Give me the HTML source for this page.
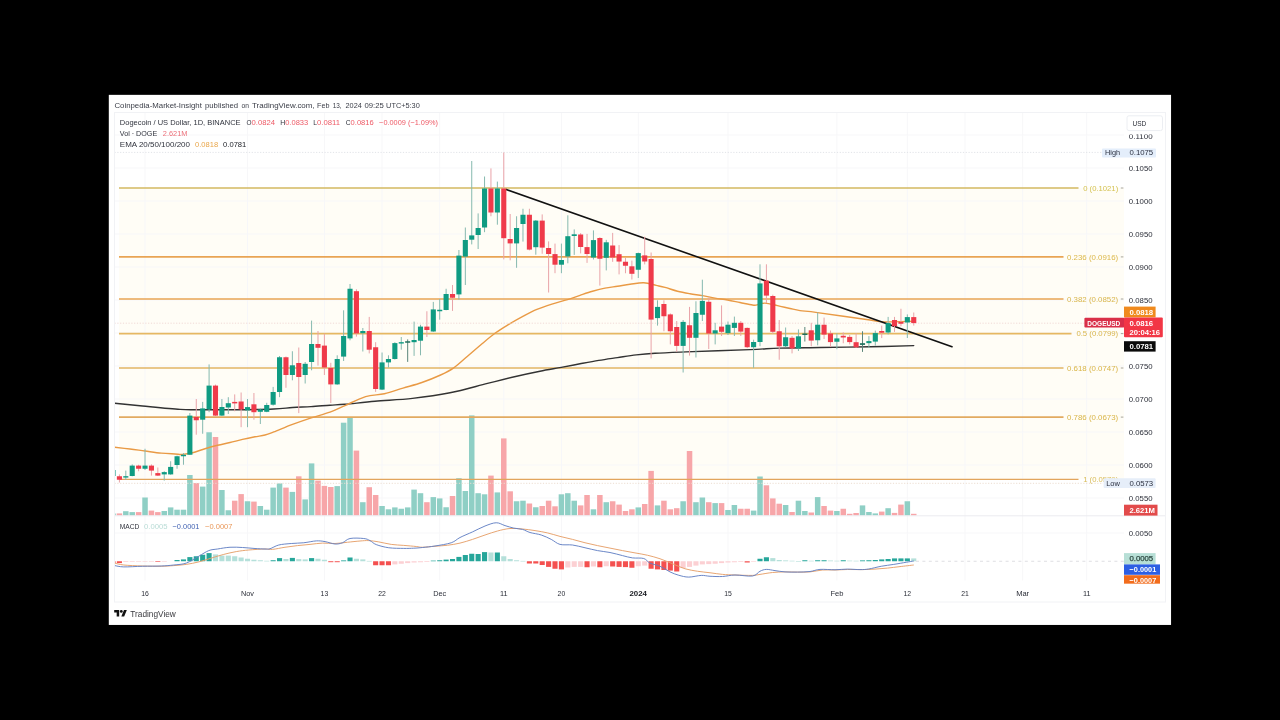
<!DOCTYPE html>
<html><head><meta charset="utf-8"><title>DOGEUSD chart</title>
<style>
html,body{margin:0;padding:0;background:#000;}
body{width:1280px;height:720px;overflow:hidden;font-family:"Liberation Sans", sans-serif;}
svg{display:block;will-change:transform;font-family:"Liberation Sans", sans-serif;}
</style></head><body>
<svg width="1280" height="720" viewBox="0 0 1280 720" font-family='"Liberation Sans", sans-serif'>
<defs>
<clipPath id="cm"><rect x="114.5" y="112.5" width="1009.5" height="403.29999999999995"/></clipPath>
<clipPath id="cd"><rect x="114.5" y="515.8" width="1009.5" height="64.70000000000005"/></clipPath>
<clipPath id="ca"><rect x="1079" y="112.5" width="86.5" height="471.29999999999995"/></clipPath>
</defs>
<rect x="0" y="0" width="1280" height="720" fill="#000"/>
<rect x="108.8" y="94.85" width="1062.25" height="530.1" fill="#fff"/>

<rect x="119" y="188" width="1005" height="291.3" fill="#fffdf6"/>
<g stroke="#f7f7f9" stroke-width="1" fill="none">
<line x1="145.03" y1="112.5" x2="145.03" y2="580.5"/>
<line x1="247.53" y1="112.5" x2="247.53" y2="580.5"/>
<line x1="324.4" y1="112.5" x2="324.4" y2="580.5"/>
<line x1="382.05" y1="112.5" x2="382.05" y2="580.5"/>
<line x1="439.71" y1="112.5" x2="439.71" y2="580.5"/>
<line x1="503.77" y1="112.5" x2="503.77" y2="580.5"/>
<line x1="561.42" y1="112.5" x2="561.42" y2="580.5"/>
<line x1="638.29" y1="112.5" x2="638.29" y2="580.5"/>
<line x1="727.98" y1="112.5" x2="727.98" y2="580.5"/>
<line x1="836.88" y1="112.5" x2="836.88" y2="580.5"/>
<line x1="907.34" y1="112.5" x2="907.34" y2="580.5"/>
<line x1="965.0" y1="112.5" x2="965.0" y2="580.5"/>
<line x1="1022.65" y1="112.5" x2="1022.65" y2="580.5"/>
<line x1="1086.71" y1="112.5" x2="1086.71" y2="580.5"/>
<line x1="114.5" y1="135" x2="1124" y2="135"/>
<line x1="114.5" y1="168" x2="1124" y2="168"/>
<line x1="114.5" y1="201" x2="1124" y2="201"/>
<line x1="114.5" y1="234" x2="1124" y2="234"/>
<line x1="114.5" y1="267" x2="1124" y2="267"/>
<line x1="114.5" y1="300" x2="1124" y2="300"/>
<line x1="114.5" y1="333" x2="1124" y2="333"/>
<line x1="114.5" y1="366" x2="1124" y2="366"/>
<line x1="114.5" y1="399" x2="1124" y2="399"/>
<line x1="114.5" y1="432" x2="1124" y2="432"/>
<line x1="114.5" y1="465" x2="1124" y2="465"/>
<line x1="114.5" y1="498" x2="1124" y2="498"/>
<line x1="114.5" y1="533" x2="1124" y2="533"/>
</g>
<g clip-path="url(#cm)">
<rect x="110.25" y="513.50" width="5.5" height="2.10" fill="#8fcfc5"/>
<rect x="116.66" y="513.40" width="5.5" height="2.20" fill="#f7a6a9"/>
<rect x="123.06" y="511.20" width="5.5" height="4.40" fill="#8fcfc5"/>
<rect x="129.47" y="512.10" width="5.5" height="3.50" fill="#8fcfc5"/>
<rect x="135.87" y="512.10" width="5.5" height="3.50" fill="#f7a6a9"/>
<rect x="142.28" y="497.50" width="5.5" height="18.10" fill="#8fcfc5"/>
<rect x="148.69" y="510.60" width="5.5" height="5.00" fill="#f7a6a9"/>
<rect x="155.09" y="512.10" width="5.5" height="3.50" fill="#f7a6a9"/>
<rect x="161.50" y="511.00" width="5.5" height="4.60" fill="#8fcfc5"/>
<rect x="167.90" y="507.40" width="5.5" height="8.20" fill="#8fcfc5"/>
<rect x="174.31" y="509.70" width="5.5" height="5.90" fill="#8fcfc5"/>
<rect x="180.72" y="509.70" width="5.5" height="5.90" fill="#8fcfc5"/>
<rect x="187.12" y="475.00" width="5.5" height="40.60" fill="#8fcfc5"/>
<rect x="193.53" y="483.00" width="5.5" height="32.60" fill="#f7a6a9"/>
<rect x="199.93" y="486.60" width="5.5" height="29.00" fill="#8fcfc5"/>
<rect x="206.34" y="432.25" width="5.5" height="83.35" fill="#8fcfc5"/>
<rect x="212.75" y="437.00" width="5.5" height="78.60" fill="#f7a6a9"/>
<rect x="219.15" y="490.00" width="5.5" height="25.60" fill="#8fcfc5"/>
<rect x="225.56" y="510.25" width="5.5" height="5.35" fill="#8fcfc5"/>
<rect x="231.96" y="500.70" width="5.5" height="14.90" fill="#f7a6a9"/>
<rect x="238.37" y="494.10" width="5.5" height="21.50" fill="#f7a6a9"/>
<rect x="244.78" y="501.25" width="5.5" height="14.35" fill="#8fcfc5"/>
<rect x="251.18" y="501.60" width="5.5" height="14.00" fill="#f7a6a9"/>
<rect x="257.59" y="506.00" width="5.5" height="9.60" fill="#8fcfc5"/>
<rect x="263.99" y="509.70" width="5.5" height="5.90" fill="#8fcfc5"/>
<rect x="270.40" y="487.60" width="5.5" height="28.00" fill="#8fcfc5"/>
<rect x="276.81" y="483.40" width="5.5" height="32.20" fill="#8fcfc5"/>
<rect x="283.21" y="487.60" width="5.5" height="28.00" fill="#f7a6a9"/>
<rect x="289.62" y="491.90" width="5.5" height="23.70" fill="#8fcfc5"/>
<rect x="296.02" y="476.30" width="5.5" height="39.30" fill="#f7a6a9"/>
<rect x="302.43" y="499.40" width="5.5" height="16.20" fill="#8fcfc5"/>
<rect x="308.84" y="463.40" width="5.5" height="52.20" fill="#8fcfc5"/>
<rect x="315.24" y="480.60" width="5.5" height="35.00" fill="#f7a6a9"/>
<rect x="321.65" y="485.90" width="5.5" height="29.70" fill="#f7a6a9"/>
<rect x="328.05" y="487.00" width="5.5" height="28.60" fill="#f7a6a9"/>
<rect x="334.46" y="486.10" width="5.5" height="29.50" fill="#8fcfc5"/>
<rect x="340.87" y="422.70" width="5.5" height="92.90" fill="#8fcfc5"/>
<rect x="347.27" y="417.40" width="5.5" height="98.20" fill="#8fcfc5"/>
<rect x="353.68" y="450.60" width="5.5" height="65.00" fill="#f7a6a9"/>
<rect x="360.08" y="502.20" width="5.5" height="13.40" fill="#8fcfc5"/>
<rect x="366.49" y="487.20" width="5.5" height="28.40" fill="#f7a6a9"/>
<rect x="372.90" y="495.00" width="5.5" height="20.60" fill="#f7a6a9"/>
<rect x="379.30" y="506.00" width="5.5" height="9.60" fill="#8fcfc5"/>
<rect x="385.71" y="509.30" width="5.5" height="6.30" fill="#8fcfc5"/>
<rect x="392.11" y="507.40" width="5.5" height="8.20" fill="#8fcfc5"/>
<rect x="398.52" y="508.75" width="5.5" height="6.85" fill="#8fcfc5"/>
<rect x="404.93" y="507.40" width="5.5" height="8.20" fill="#8fcfc5"/>
<rect x="411.33" y="489.60" width="5.5" height="26.00" fill="#8fcfc5"/>
<rect x="417.74" y="493.20" width="5.5" height="22.40" fill="#8fcfc5"/>
<rect x="424.14" y="502.20" width="5.5" height="13.40" fill="#f7a6a9"/>
<rect x="430.55" y="497.10" width="5.5" height="18.50" fill="#8fcfc5"/>
<rect x="436.96" y="498.40" width="5.5" height="17.20" fill="#8fcfc5"/>
<rect x="443.36" y="507.25" width="5.5" height="8.35" fill="#8fcfc5"/>
<rect x="449.77" y="496.00" width="5.5" height="19.60" fill="#f7a6a9"/>
<rect x="456.17" y="478.20" width="5.5" height="37.40" fill="#8fcfc5"/>
<rect x="462.58" y="491.00" width="5.5" height="24.60" fill="#8fcfc5"/>
<rect x="468.99" y="415.40" width="5.5" height="100.20" fill="#8fcfc5"/>
<rect x="475.39" y="493.20" width="5.5" height="22.40" fill="#8fcfc5"/>
<rect x="481.80" y="494.30" width="5.5" height="21.30" fill="#8fcfc5"/>
<rect x="488.20" y="475.60" width="5.5" height="40.00" fill="#f7a6a9"/>
<rect x="494.61" y="492.40" width="5.5" height="23.20" fill="#8fcfc5"/>
<rect x="501.02" y="438.40" width="5.5" height="77.20" fill="#f7a6a9"/>
<rect x="507.42" y="491.30" width="5.5" height="24.30" fill="#f7a6a9"/>
<rect x="513.83" y="501.25" width="5.5" height="14.35" fill="#8fcfc5"/>
<rect x="520.23" y="500.70" width="5.5" height="14.90" fill="#8fcfc5"/>
<rect x="526.64" y="503.50" width="5.5" height="12.10" fill="#f7a6a9"/>
<rect x="533.05" y="507.25" width="5.5" height="8.35" fill="#8fcfc5"/>
<rect x="539.45" y="506.00" width="5.5" height="9.60" fill="#f7a6a9"/>
<rect x="545.86" y="500.70" width="5.5" height="14.90" fill="#f7a6a9"/>
<rect x="552.26" y="506.30" width="5.5" height="9.30" fill="#f7a6a9"/>
<rect x="558.67" y="494.30" width="5.5" height="21.30" fill="#8fcfc5"/>
<rect x="565.08" y="493.20" width="5.5" height="22.40" fill="#8fcfc5"/>
<rect x="571.48" y="500.70" width="5.5" height="14.90" fill="#8fcfc5"/>
<rect x="577.89" y="505.40" width="5.5" height="10.20" fill="#f7a6a9"/>
<rect x="584.29" y="495.00" width="5.5" height="20.60" fill="#f7a6a9"/>
<rect x="590.70" y="509.30" width="5.5" height="6.30" fill="#8fcfc5"/>
<rect x="597.11" y="495.00" width="5.5" height="20.60" fill="#f7a6a9"/>
<rect x="603.51" y="502.20" width="5.5" height="13.40" fill="#8fcfc5"/>
<rect x="609.92" y="501.25" width="5.5" height="14.35" fill="#f7a6a9"/>
<rect x="616.32" y="504.60" width="5.5" height="11.00" fill="#f7a6a9"/>
<rect x="622.73" y="511.00" width="5.5" height="4.60" fill="#f7a6a9"/>
<rect x="629.14" y="509.30" width="5.5" height="6.30" fill="#f7a6a9"/>
<rect x="635.54" y="507.40" width="5.5" height="8.20" fill="#8fcfc5"/>
<rect x="641.95" y="504.00" width="5.5" height="11.60" fill="#f7a6a9"/>
<rect x="648.35" y="470.90" width="5.5" height="44.70" fill="#f7a6a9"/>
<rect x="654.76" y="505.40" width="5.5" height="10.20" fill="#8fcfc5"/>
<rect x="661.17" y="500.70" width="5.5" height="14.90" fill="#f7a6a9"/>
<rect x="667.57" y="509.30" width="5.5" height="6.30" fill="#f7a6a9"/>
<rect x="673.98" y="508.20" width="5.5" height="7.40" fill="#f7a6a9"/>
<rect x="680.38" y="501.25" width="5.5" height="14.35" fill="#8fcfc5"/>
<rect x="686.79" y="451.00" width="5.5" height="64.60" fill="#f7a6a9"/>
<rect x="693.20" y="502.20" width="5.5" height="13.40" fill="#8fcfc5"/>
<rect x="699.60" y="497.50" width="5.5" height="18.10" fill="#8fcfc5"/>
<rect x="706.01" y="502.20" width="5.5" height="13.40" fill="#f7a6a9"/>
<rect x="712.41" y="503.10" width="5.5" height="12.50" fill="#8fcfc5"/>
<rect x="718.82" y="503.10" width="5.5" height="12.50" fill="#f7a6a9"/>
<rect x="725.23" y="510.00" width="5.5" height="5.60" fill="#8fcfc5"/>
<rect x="731.63" y="505.00" width="5.5" height="10.60" fill="#8fcfc5"/>
<rect x="738.04" y="508.75" width="5.5" height="6.85" fill="#f7a6a9"/>
<rect x="744.44" y="508.75" width="5.5" height="6.85" fill="#f7a6a9"/>
<rect x="750.85" y="510.60" width="5.5" height="5.00" fill="#8fcfc5"/>
<rect x="757.26" y="476.50" width="5.5" height="39.10" fill="#8fcfc5"/>
<rect x="763.66" y="485.30" width="5.5" height="30.30" fill="#f7a6a9"/>
<rect x="770.07" y="498.40" width="5.5" height="17.20" fill="#f7a6a9"/>
<rect x="776.47" y="503.70" width="5.5" height="11.90" fill="#f7a6a9"/>
<rect x="782.88" y="505.00" width="5.5" height="10.60" fill="#8fcfc5"/>
<rect x="789.29" y="512.00" width="5.5" height="3.60" fill="#f7a6a9"/>
<rect x="795.69" y="500.70" width="5.5" height="14.90" fill="#8fcfc5"/>
<rect x="802.10" y="511.00" width="5.5" height="4.60" fill="#8fcfc5"/>
<rect x="808.50" y="512.50" width="5.5" height="3.10" fill="#f7a6a9"/>
<rect x="814.91" y="497.10" width="5.5" height="18.50" fill="#8fcfc5"/>
<rect x="821.32" y="506.00" width="5.5" height="9.60" fill="#f7a6a9"/>
<rect x="827.72" y="510.60" width="5.5" height="5.00" fill="#f7a6a9"/>
<rect x="834.13" y="511.00" width="5.5" height="4.60" fill="#8fcfc5"/>
<rect x="840.53" y="508.75" width="5.5" height="6.85" fill="#f7a6a9"/>
<rect x="846.94" y="513.80" width="5.5" height="1.80" fill="#f7a6a9"/>
<rect x="853.35" y="513.00" width="5.5" height="2.60" fill="#f7a6a9"/>
<rect x="859.75" y="505.40" width="5.5" height="10.20" fill="#8fcfc5"/>
<rect x="866.16" y="512.00" width="5.5" height="3.60" fill="#8fcfc5"/>
<rect x="872.56" y="513.40" width="5.5" height="2.20" fill="#8fcfc5"/>
<rect x="878.97" y="511.60" width="5.5" height="4.00" fill="#f7a6a9"/>
<rect x="885.38" y="508.20" width="5.5" height="7.40" fill="#8fcfc5"/>
<rect x="891.78" y="512.90" width="5.5" height="2.70" fill="#f7a6a9"/>
<rect x="898.19" y="504.60" width="5.5" height="11.00" fill="#f7a6a9"/>
<rect x="904.59" y="501.25" width="5.5" height="14.35" fill="#8fcfc5"/>
<rect x="911.00" y="513.80" width="5.5" height="1.80" fill="#f7a6a9"/>
</g>
<line x1="114.5" y1="152.4" x2="1102" y2="152.4" stroke="#e1e3e8" stroke-width="1" stroke-dasharray="1.2,1.6"/>
<line x1="114.5" y1="483.3" x2="1103" y2="483.3" stroke="#ebddd0" stroke-width="1" stroke-dasharray="1.2,1.6"/>
<line x1="119" y1="188.0" x2="1078.5" y2="188.0" stroke="#d3b861" stroke-width="1.6"/>
<line x1="119" y1="256.9" x2="1063.5" y2="256.9" stroke="#e9a454" stroke-width="1.6"/>
<line x1="119" y1="299.0" x2="1063.5" y2="299.0" stroke="#e9a454" stroke-width="1.6"/>
<line x1="119" y1="333.6" x2="1071.5" y2="333.6" stroke="#e6b862" stroke-width="1.6"/>
<line x1="119" y1="368.0" x2="1063.5" y2="368.0" stroke="#e2b464" stroke-width="1.6"/>
<line x1="119" y1="417.1" x2="1063.5" y2="417.1" stroke="#e2aa60" stroke-width="1.6"/>
<line x1="119" y1="479.3" x2="1078.5" y2="479.3" stroke="#e2a55c" stroke-width="1.25"/>
<g clip-path="url(#cm)" fill="none" stroke-linejoin="round" stroke-linecap="round">
<path d="M114.75,403.20 C119.38,403.67 131.62,404.97 142.50,406.00 C153.38,407.03 170.62,408.77 180.00,409.40 C189.38,410.02 189.42,409.69 198.75,409.75 C208.08,409.81 223.50,409.88 236.00,409.75 C248.50,409.62 264.33,409.38 273.75,409.00 C283.17,408.62 286.29,407.90 292.50,407.50 C298.71,407.10 304.75,406.98 311.00,406.60 C317.25,406.22 324.33,405.58 330.00,405.20 C335.67,404.82 337.50,404.96 345.00,404.30 C352.50,403.64 363.75,402.23 375.00,401.25 C386.25,400.27 400.00,399.81 412.50,398.40 C425.00,396.99 437.50,395.30 450.00,392.80 C462.50,390.30 476.57,386.12 487.50,383.40 C498.43,380.68 506.85,378.52 515.60,376.50 C524.35,374.48 532.39,372.77 540.00,371.25 C547.61,369.73 554.58,368.64 561.25,367.40 C567.92,366.16 573.75,364.97 580.00,363.80 C586.25,362.63 592.50,361.43 598.75,360.40 C605.00,359.37 611.25,358.52 617.50,357.60 C623.75,356.68 630.00,355.62 636.25,354.90 C642.50,354.17 646.71,353.75 655.00,353.25 C663.29,352.75 670.17,352.51 686.00,351.90 C701.83,351.29 734.33,350.23 750.00,349.60 C765.67,348.97 768.33,348.45 780.00,348.10 C791.67,347.75 805.00,347.72 820.00,347.50 C835.00,347.28 854.38,347.12 870.00,346.80 C885.62,346.48 906.46,345.80 913.75,345.60" stroke="#333" stroke-width="1.4"/>
<path d="M114.75,447.25 C117.29,447.54 124.96,448.38 130.00,449.00 C135.04,449.62 139.79,450.32 145.00,451.00 C150.21,451.68 156.25,452.60 161.25,453.10 C166.25,453.60 171.46,453.78 175.00,454.00 C178.54,454.22 179.58,454.61 182.50,454.40 C185.42,454.19 188.75,453.69 192.50,452.75 C196.25,451.81 200.83,449.99 205.00,448.75 C209.17,447.51 213.33,446.34 217.50,445.30 C221.67,444.26 225.83,443.48 230.00,442.50 C234.17,441.52 238.33,440.35 242.50,439.40 C246.67,438.45 251.25,437.53 255.00,436.80 C258.75,436.07 261.88,435.82 265.00,435.00 C268.12,434.18 269.17,433.67 273.75,431.90 C278.33,430.13 286.25,426.75 292.50,424.40 C298.75,422.05 305.00,419.83 311.25,417.80 C317.50,415.77 324.38,414.23 330.00,412.20 C335.62,410.17 339.07,408.20 345.00,405.60 C350.93,403.00 359.03,398.58 365.60,396.60 C372.17,394.62 378.17,395.17 384.40,393.75 C390.63,392.33 396.75,389.98 403.00,388.10 C409.25,386.23 415.63,384.68 421.90,382.50 C428.17,380.32 435.29,377.43 440.60,375.00 C445.91,372.57 449.27,371.02 453.75,367.90 C458.23,364.77 463.02,360.07 467.50,356.25 C471.98,352.43 475.92,348.91 480.60,345.00 C485.28,341.09 490.91,336.23 495.60,332.80 C500.29,329.37 504.06,327.22 508.75,324.40 C513.44,321.58 519.06,318.40 523.75,315.90 C528.44,313.40 532.21,311.37 536.90,309.40 C541.59,307.43 546.80,305.73 551.90,304.10 C557.00,302.47 562.82,301.07 567.50,299.60 C572.18,298.13 575.83,296.69 580.00,295.30 C584.17,293.91 588.33,292.45 592.50,291.25 C596.67,290.05 600.83,288.93 605.00,288.10 C609.17,287.27 613.33,286.88 617.50,286.25 C621.67,285.62 625.62,284.88 630.00,284.30 C634.38,283.73 639.38,282.62 643.75,282.80 C648.12,282.98 652.71,284.63 656.25,285.40 C659.79,286.17 661.46,286.42 665.00,287.40 C668.54,288.38 673.33,290.19 677.50,291.25 C681.67,292.31 685.83,293.02 690.00,293.75 C694.17,294.48 698.33,294.88 702.50,295.60 C706.67,296.33 710.83,297.37 715.00,298.10 C719.17,298.83 723.33,299.27 727.50,300.00 C731.67,300.73 735.83,301.67 740.00,302.50 C744.17,303.33 749.67,304.60 752.50,305.00 C755.33,305.40 754.92,305.22 757.00,304.90 C759.08,304.58 761.58,302.98 765.00,303.10 C768.42,303.22 773.33,304.70 777.50,305.60 C781.67,306.50 786.25,307.67 790.00,308.50 C793.75,309.33 795.42,309.92 800.00,310.60 C804.58,311.28 805.83,311.03 817.50,312.60 C829.17,314.17 859.17,318.45 870.00,320.00 C880.83,321.55 875.21,321.70 882.50,321.90 C889.79,322.10 908.54,321.32 913.75,321.20" stroke="#e99a45" stroke-width="1.4"/>
</g>
<line x1="114.5" y1="323.2" x2="1085" y2="323.2" stroke="#f0d9d6" stroke-width="1" stroke-dasharray="1.2,1.6"/>
<line x1="506.2" y1="189.5" x2="952" y2="346.7" stroke="#111" stroke-width="1.6" stroke-linecap="round"/>
<g clip-path="url(#cm)">
<line x1="113.00" y1="470.00" x2="113.00" y2="476.00" stroke="#86b9af" stroke-width="1"/>
<rect x="110.45" y="470.00" width="5.1" height="6.00" fill="#0f9b82"/>
<line x1="119.41" y1="474.40" x2="119.41" y2="482.50" stroke="#e9a3a8" stroke-width="1"/>
<rect x="116.86" y="476.25" width="5.1" height="3.50" fill="#ef3a4a"/>
<line x1="125.81" y1="470.60" x2="125.81" y2="480.00" stroke="#86b9af" stroke-width="1"/>
<rect x="123.26" y="476.18" width="5.1" height="1.40" fill="#0f9b82"/>
<line x1="132.22" y1="464.40" x2="132.22" y2="476.30" stroke="#86b9af" stroke-width="1"/>
<rect x="129.67" y="465.60" width="5.1" height="10.40" fill="#0f9b82"/>
<line x1="138.62" y1="464.75" x2="138.62" y2="471.25" stroke="#e9a3a8" stroke-width="1"/>
<rect x="136.07" y="465.60" width="5.1" height="3.15" fill="#ef3a4a"/>
<line x1="145.03" y1="448.75" x2="145.03" y2="470.00" stroke="#86b9af" stroke-width="1"/>
<rect x="142.48" y="465.60" width="5.1" height="3.15" fill="#0f9b82"/>
<line x1="151.44" y1="464.40" x2="151.44" y2="475.60" stroke="#e9a3a8" stroke-width="1"/>
<rect x="148.89" y="465.60" width="5.1" height="5.00" fill="#ef3a4a"/>
<line x1="157.84" y1="467.50" x2="157.84" y2="476.00" stroke="#e9a3a8" stroke-width="1"/>
<rect x="155.29" y="473.10" width="5.1" height="2.50" fill="#ef3a4a"/>
<line x1="164.25" y1="471.25" x2="164.25" y2="480.60" stroke="#86b9af" stroke-width="1"/>
<rect x="161.70" y="472.10" width="5.1" height="2.30" fill="#0f9b82"/>
<line x1="170.65" y1="461.25" x2="170.65" y2="474.75" stroke="#86b9af" stroke-width="1"/>
<rect x="168.10" y="466.90" width="5.1" height="7.50" fill="#0f9b82"/>
<line x1="177.06" y1="455.60" x2="177.06" y2="468.75" stroke="#86b9af" stroke-width="1"/>
<rect x="174.51" y="456.25" width="5.1" height="8.75" fill="#0f9b82"/>
<line x1="183.47" y1="453.10" x2="183.47" y2="464.75" stroke="#86b9af" stroke-width="1"/>
<rect x="180.92" y="454.75" width="5.1" height="1.50" fill="#0f9b82"/>
<line x1="189.87" y1="413.00" x2="189.87" y2="455.00" stroke="#86b9af" stroke-width="1"/>
<rect x="187.32" y="415.60" width="5.1" height="39.15" fill="#0f9b82"/>
<line x1="196.28" y1="399.00" x2="196.28" y2="434.70" stroke="#e9a3a8" stroke-width="1"/>
<rect x="193.73" y="416.90" width="5.1" height="3.35" fill="#ef3a4a"/>
<line x1="202.68" y1="401.90" x2="202.68" y2="433.75" stroke="#86b9af" stroke-width="1"/>
<rect x="200.13" y="408.40" width="5.1" height="11.30" fill="#0f9b82"/>
<line x1="209.09" y1="364.40" x2="209.09" y2="412.20" stroke="#86b9af" stroke-width="1"/>
<rect x="206.54" y="385.60" width="5.1" height="23.80" fill="#0f9b82"/>
<line x1="215.50" y1="384.60" x2="215.50" y2="416.00" stroke="#e9a3a8" stroke-width="1"/>
<rect x="212.95" y="385.60" width="5.1" height="30.00" fill="#ef3a4a"/>
<line x1="221.90" y1="399.00" x2="221.90" y2="416.00" stroke="#86b9af" stroke-width="1"/>
<rect x="219.35" y="407.00" width="5.1" height="8.60" fill="#0f9b82"/>
<line x1="228.31" y1="397.20" x2="228.31" y2="414.00" stroke="#86b9af" stroke-width="1"/>
<rect x="225.76" y="403.20" width="5.1" height="4.30" fill="#0f9b82"/>
<line x1="234.71" y1="394.40" x2="234.71" y2="411.25" stroke="#e9a3a8" stroke-width="1"/>
<rect x="232.16" y="401.90" width="5.1" height="1.50" fill="#ef3a4a"/>
<line x1="241.12" y1="392.50" x2="241.12" y2="427.20" stroke="#e9a3a8" stroke-width="1"/>
<rect x="238.57" y="401.50" width="5.1" height="7.90" fill="#ef3a4a"/>
<line x1="247.53" y1="399.00" x2="247.53" y2="427.20" stroke="#86b9af" stroke-width="1"/>
<rect x="244.98" y="407.10" width="5.1" height="3.20" fill="#0f9b82"/>
<line x1="253.93" y1="393.00" x2="253.93" y2="419.70" stroke="#e9a3a8" stroke-width="1"/>
<rect x="251.38" y="404.30" width="5.1" height="7.90" fill="#ef3a4a"/>
<line x1="260.34" y1="408.40" x2="260.34" y2="424.00" stroke="#86b9af" stroke-width="1"/>
<rect x="257.79" y="409.40" width="5.1" height="2.40" fill="#0f9b82"/>
<line x1="266.74" y1="402.80" x2="266.74" y2="412.20" stroke="#86b9af" stroke-width="1"/>
<rect x="264.19" y="405.00" width="5.1" height="6.80" fill="#0f9b82"/>
<line x1="273.15" y1="386.90" x2="273.15" y2="405.60" stroke="#86b9af" stroke-width="1"/>
<rect x="270.60" y="392.00" width="5.1" height="12.70" fill="#0f9b82"/>
<line x1="279.56" y1="356.00" x2="279.56" y2="397.20" stroke="#86b9af" stroke-width="1"/>
<rect x="277.01" y="357.25" width="5.1" height="34.75" fill="#0f9b82"/>
<line x1="285.96" y1="356.50" x2="285.96" y2="387.80" stroke="#e9a3a8" stroke-width="1"/>
<rect x="283.41" y="357.25" width="5.1" height="17.75" fill="#ef3a4a"/>
<line x1="292.37" y1="351.25" x2="292.37" y2="380.30" stroke="#86b9af" stroke-width="1"/>
<rect x="289.82" y="365.30" width="5.1" height="9.70" fill="#0f9b82"/>
<line x1="298.77" y1="347.50" x2="298.77" y2="413.10" stroke="#e9a3a8" stroke-width="1"/>
<rect x="296.22" y="363.00" width="5.1" height="14.00" fill="#ef3a4a"/>
<line x1="305.18" y1="362.00" x2="305.18" y2="383.50" stroke="#86b9af" stroke-width="1"/>
<rect x="302.63" y="363.80" width="5.1" height="11.20" fill="#0f9b82"/>
<line x1="311.59" y1="320.60" x2="311.59" y2="370.30" stroke="#86b9af" stroke-width="1"/>
<rect x="309.04" y="344.00" width="5.1" height="18.00" fill="#0f9b82"/>
<line x1="317.99" y1="331.00" x2="317.99" y2="365.60" stroke="#e9a3a8" stroke-width="1"/>
<rect x="315.44" y="344.00" width="5.1" height="3.80" fill="#ef3a4a"/>
<line x1="324.40" y1="333.75" x2="324.40" y2="375.00" stroke="#e9a3a8" stroke-width="1"/>
<rect x="321.85" y="345.60" width="5.1" height="21.90" fill="#ef3a4a"/>
<line x1="330.80" y1="362.80" x2="330.80" y2="403.00" stroke="#e9a3a8" stroke-width="1"/>
<rect x="328.25" y="367.90" width="5.1" height="16.50" fill="#ef3a4a"/>
<line x1="337.21" y1="355.30" x2="337.21" y2="384.75" stroke="#86b9af" stroke-width="1"/>
<rect x="334.66" y="359.00" width="5.1" height="25.40" fill="#0f9b82"/>
<line x1="343.62" y1="310.30" x2="343.62" y2="361.00" stroke="#86b9af" stroke-width="1"/>
<rect x="341.07" y="336.00" width="5.1" height="20.60" fill="#0f9b82"/>
<line x1="350.02" y1="284.00" x2="350.02" y2="340.30" stroke="#86b9af" stroke-width="1"/>
<rect x="347.47" y="288.75" width="5.1" height="49.65" fill="#0f9b82"/>
<line x1="356.43" y1="289.30" x2="356.43" y2="336.60" stroke="#e9a3a8" stroke-width="1"/>
<rect x="353.88" y="291.20" width="5.1" height="42.20" fill="#ef3a4a"/>
<line x1="362.83" y1="328.00" x2="362.83" y2="351.50" stroke="#86b9af" stroke-width="1"/>
<rect x="360.28" y="331.00" width="5.1" height="2.20" fill="#0f9b82"/>
<line x1="369.24" y1="316.90" x2="369.24" y2="353.40" stroke="#e9a3a8" stroke-width="1"/>
<rect x="366.69" y="331.00" width="5.1" height="18.70" fill="#ef3a4a"/>
<line x1="375.65" y1="342.20" x2="375.65" y2="391.90" stroke="#e9a3a8" stroke-width="1"/>
<rect x="373.10" y="347.25" width="5.1" height="41.75" fill="#ef3a4a"/>
<line x1="382.05" y1="352.50" x2="382.05" y2="390.00" stroke="#86b9af" stroke-width="1"/>
<rect x="379.50" y="362.40" width="5.1" height="27.20" fill="#0f9b82"/>
<line x1="388.46" y1="355.30" x2="388.46" y2="367.50" stroke="#86b9af" stroke-width="1"/>
<rect x="385.91" y="359.00" width="5.1" height="3.40" fill="#0f9b82"/>
<line x1="394.86" y1="342.20" x2="394.86" y2="359.60" stroke="#86b9af" stroke-width="1"/>
<rect x="392.31" y="343.10" width="5.1" height="15.90" fill="#0f9b82"/>
<line x1="401.27" y1="337.00" x2="401.27" y2="349.70" stroke="#86b9af" stroke-width="1"/>
<rect x="398.72" y="342.15" width="5.1" height="1.40" fill="#0f9b82"/>
<line x1="407.68" y1="339.40" x2="407.68" y2="361.90" stroke="#5b857a" stroke-width="1"/>
<rect x="405.13" y="341.25" width="5.1" height="1.50" fill="#1f6f5c"/>
<line x1="414.08" y1="321.60" x2="414.08" y2="355.90" stroke="#86b9af" stroke-width="1"/>
<rect x="411.53" y="340.00" width="5.1" height="2.20" fill="#0f9b82"/>
<line x1="420.49" y1="324.75" x2="420.49" y2="355.30" stroke="#86b9af" stroke-width="1"/>
<rect x="417.94" y="326.60" width="5.1" height="14.10" fill="#0f9b82"/>
<line x1="426.89" y1="311.25" x2="426.89" y2="337.00" stroke="#e9a3a8" stroke-width="1"/>
<rect x="424.34" y="326.60" width="5.1" height="3.40" fill="#ef3a4a"/>
<line x1="433.30" y1="301.90" x2="433.30" y2="331.90" stroke="#86b9af" stroke-width="1"/>
<rect x="430.75" y="309.40" width="5.1" height="22.10" fill="#0f9b82"/>
<line x1="439.71" y1="299.00" x2="439.71" y2="319.70" stroke="#86b9af" stroke-width="1"/>
<rect x="437.16" y="309.75" width="5.1" height="1.50" fill="#0f9b82"/>
<line x1="446.11" y1="288.75" x2="446.11" y2="310.30" stroke="#86b9af" stroke-width="1"/>
<rect x="443.56" y="294.00" width="5.1" height="16.00" fill="#0f9b82"/>
<line x1="452.52" y1="285.00" x2="452.52" y2="310.90" stroke="#e9a3a8" stroke-width="1"/>
<rect x="449.97" y="294.00" width="5.1" height="3.75" fill="#ef3a4a"/>
<line x1="458.92" y1="250.00" x2="458.92" y2="299.60" stroke="#86b9af" stroke-width="1"/>
<rect x="456.37" y="255.60" width="5.1" height="38.80" fill="#0f9b82"/>
<line x1="465.33" y1="227.50" x2="465.33" y2="285.00" stroke="#86b9af" stroke-width="1"/>
<rect x="462.78" y="240.00" width="5.1" height="16.60" fill="#0f9b82"/>
<line x1="471.74" y1="161.00" x2="471.74" y2="244.40" stroke="#86b9af" stroke-width="1"/>
<rect x="469.19" y="235.40" width="5.1" height="4.30" fill="#0f9b82"/>
<line x1="478.14" y1="213.40" x2="478.14" y2="249.00" stroke="#86b9af" stroke-width="1"/>
<rect x="475.59" y="228.00" width="5.1" height="7.00" fill="#0f9b82"/>
<line x1="484.55" y1="176.50" x2="484.55" y2="232.20" stroke="#86b9af" stroke-width="1"/>
<rect x="482.00" y="188.50" width="5.1" height="39.00" fill="#0f9b82"/>
<line x1="490.95" y1="168.40" x2="490.95" y2="216.25" stroke="#e9a3a8" stroke-width="1"/>
<rect x="488.40" y="188.50" width="5.1" height="24.00" fill="#ef3a4a"/>
<line x1="497.36" y1="181.60" x2="497.36" y2="224.70" stroke="#86b9af" stroke-width="1"/>
<rect x="494.81" y="188.50" width="5.1" height="24.00" fill="#0f9b82"/>
<line x1="503.77" y1="152.50" x2="503.77" y2="259.40" stroke="#e9a3a8" stroke-width="1"/>
<rect x="501.22" y="188.50" width="5.1" height="49.70" fill="#ef3a4a"/>
<line x1="510.17" y1="214.00" x2="510.17" y2="260.30" stroke="#e9a3a8" stroke-width="1"/>
<rect x="507.62" y="239.00" width="5.1" height="4.40" fill="#ef3a4a"/>
<line x1="516.58" y1="216.25" x2="516.58" y2="267.80" stroke="#86b9af" stroke-width="1"/>
<rect x="514.03" y="228.00" width="5.1" height="15.40" fill="#0f9b82"/>
<line x1="522.98" y1="208.75" x2="522.98" y2="241.60" stroke="#86b9af" stroke-width="1"/>
<rect x="520.43" y="214.75" width="5.1" height="9.25" fill="#0f9b82"/>
<line x1="529.39" y1="208.75" x2="529.39" y2="250.40" stroke="#e9a3a8" stroke-width="1"/>
<rect x="526.84" y="214.75" width="5.1" height="34.85" fill="#ef3a4a"/>
<line x1="535.80" y1="220.00" x2="535.80" y2="254.70" stroke="#86b9af" stroke-width="1"/>
<rect x="533.25" y="220.60" width="5.1" height="26.60" fill="#0f9b82"/>
<line x1="542.20" y1="214.40" x2="542.20" y2="253.75" stroke="#e9a3a8" stroke-width="1"/>
<rect x="539.65" y="220.60" width="5.1" height="27.00" fill="#ef3a4a"/>
<line x1="548.61" y1="241.40" x2="548.61" y2="292.50" stroke="#e9a3a8" stroke-width="1"/>
<rect x="546.06" y="248.00" width="5.1" height="6.00" fill="#ef3a4a"/>
<line x1="555.01" y1="243.60" x2="555.01" y2="273.20" stroke="#e9a3a8" stroke-width="1"/>
<rect x="552.46" y="254.10" width="5.1" height="10.60" fill="#ef3a4a"/>
<line x1="561.42" y1="243.60" x2="561.42" y2="273.20" stroke="#86b9af" stroke-width="1"/>
<rect x="558.87" y="260.00" width="5.1" height="4.70" fill="#0f9b82"/>
<line x1="567.83" y1="215.30" x2="567.83" y2="263.30" stroke="#86b9af" stroke-width="1"/>
<rect x="565.28" y="236.20" width="5.1" height="20.20" fill="#0f9b82"/>
<line x1="574.23" y1="229.40" x2="574.23" y2="254.90" stroke="#86b9af" stroke-width="1"/>
<rect x="571.68" y="234.30" width="5.1" height="1.70" fill="#0f9b82"/>
<line x1="580.64" y1="233.10" x2="580.64" y2="253.40" stroke="#e9a3a8" stroke-width="1"/>
<rect x="578.09" y="234.50" width="5.1" height="12.50" fill="#ef3a4a"/>
<line x1="587.04" y1="233.90" x2="587.04" y2="262.90" stroke="#e9a3a8" stroke-width="1"/>
<rect x="584.49" y="247.10" width="5.1" height="6.90" fill="#ef3a4a"/>
<line x1="593.45" y1="230.40" x2="593.45" y2="259.50" stroke="#86b9af" stroke-width="1"/>
<rect x="590.90" y="240.10" width="5.1" height="17.40" fill="#0f9b82"/>
<line x1="599.86" y1="237.20" x2="599.86" y2="285.60" stroke="#e9a3a8" stroke-width="1"/>
<rect x="597.31" y="238.00" width="5.1" height="20.75" fill="#ef3a4a"/>
<line x1="606.26" y1="239.85" x2="606.26" y2="270.40" stroke="#86b9af" stroke-width="1"/>
<rect x="603.71" y="242.30" width="5.1" height="15.50" fill="#0f9b82"/>
<line x1="612.67" y1="232.90" x2="612.67" y2="261.85" stroke="#e9a3a8" stroke-width="1"/>
<rect x="610.12" y="245.50" width="5.1" height="12.00" fill="#ef3a4a"/>
<line x1="619.07" y1="245.10" x2="619.07" y2="274.40" stroke="#e9a3a8" stroke-width="1"/>
<rect x="616.52" y="254.20" width="5.1" height="7.35" fill="#ef3a4a"/>
<line x1="625.48" y1="258.00" x2="625.48" y2="273.25" stroke="#e9a3a8" stroke-width="1"/>
<rect x="622.93" y="261.75" width="5.1" height="4.00" fill="#ef3a4a"/>
<line x1="631.89" y1="260.60" x2="631.89" y2="279.50" stroke="#e9a3a8" stroke-width="1"/>
<rect x="629.34" y="266.30" width="5.1" height="7.50" fill="#ef3a4a"/>
<line x1="638.29" y1="252.60" x2="638.29" y2="278.00" stroke="#86b9af" stroke-width="1"/>
<rect x="635.74" y="253.10" width="5.1" height="16.65" fill="#0f9b82"/>
<line x1="644.70" y1="236.70" x2="644.70" y2="264.40" stroke="#e9a3a8" stroke-width="1"/>
<rect x="642.15" y="255.40" width="5.1" height="6.10" fill="#ef3a4a"/>
<line x1="651.10" y1="252.50" x2="651.10" y2="358.40" stroke="#e9a3a8" stroke-width="1"/>
<rect x="648.55" y="259.00" width="5.1" height="60.60" fill="#ef3a4a"/>
<line x1="657.51" y1="300.30" x2="657.51" y2="325.60" stroke="#86b9af" stroke-width="1"/>
<rect x="654.96" y="306.90" width="5.1" height="11.20" fill="#0f9b82"/>
<line x1="663.92" y1="300.30" x2="663.92" y2="331.25" stroke="#e9a3a8" stroke-width="1"/>
<rect x="661.37" y="304.00" width="5.1" height="12.25" fill="#ef3a4a"/>
<line x1="670.32" y1="313.40" x2="670.32" y2="344.40" stroke="#e9a3a8" stroke-width="1"/>
<rect x="667.77" y="314.40" width="5.1" height="16.85" fill="#ef3a4a"/>
<line x1="676.73" y1="321.00" x2="676.73" y2="351.90" stroke="#e9a3a8" stroke-width="1"/>
<rect x="674.18" y="327.00" width="5.1" height="18.90" fill="#ef3a4a"/>
<line x1="683.13" y1="320.00" x2="683.13" y2="372.50" stroke="#86b9af" stroke-width="1"/>
<rect x="680.58" y="321.90" width="5.1" height="24.00" fill="#0f9b82"/>
<line x1="689.54" y1="306.90" x2="689.54" y2="355.60" stroke="#e9a3a8" stroke-width="1"/>
<rect x="686.99" y="325.25" width="5.1" height="12.55" fill="#ef3a4a"/>
<line x1="695.95" y1="301.25" x2="695.95" y2="357.50" stroke="#86b9af" stroke-width="1"/>
<rect x="693.40" y="313.00" width="5.1" height="24.80" fill="#0f9b82"/>
<line x1="702.35" y1="279.70" x2="702.35" y2="321.00" stroke="#86b9af" stroke-width="1"/>
<rect x="699.80" y="300.90" width="5.1" height="13.85" fill="#0f9b82"/>
<line x1="708.76" y1="297.50" x2="708.76" y2="349.00" stroke="#e9a3a8" stroke-width="1"/>
<rect x="706.21" y="301.80" width="5.1" height="31.70" fill="#ef3a4a"/>
<line x1="715.16" y1="322.80" x2="715.16" y2="344.40" stroke="#86b9af" stroke-width="1"/>
<rect x="712.61" y="330.30" width="5.1" height="3.20" fill="#0f9b82"/>
<line x1="721.57" y1="305.40" x2="721.57" y2="336.00" stroke="#e9a3a8" stroke-width="1"/>
<rect x="719.02" y="326.60" width="5.1" height="5.20" fill="#ef3a4a"/>
<line x1="727.98" y1="321.50" x2="727.98" y2="335.00" stroke="#86b9af" stroke-width="1"/>
<rect x="725.43" y="324.70" width="5.1" height="8.40" fill="#0f9b82"/>
<line x1="734.38" y1="316.60" x2="734.38" y2="336.00" stroke="#86b9af" stroke-width="1"/>
<rect x="731.83" y="322.80" width="5.1" height="5.10" fill="#0f9b82"/>
<line x1="740.79" y1="321.00" x2="740.79" y2="336.00" stroke="#e9a3a8" stroke-width="1"/>
<rect x="738.24" y="322.80" width="5.1" height="8.80" fill="#ef3a4a"/>
<line x1="747.19" y1="327.50" x2="747.19" y2="348.10" stroke="#e9a3a8" stroke-width="1"/>
<rect x="744.64" y="327.90" width="5.1" height="19.30" fill="#ef3a4a"/>
<line x1="753.60" y1="339.70" x2="753.60" y2="367.80" stroke="#86b9af" stroke-width="1"/>
<rect x="751.05" y="342.00" width="5.1" height="5.20" fill="#0f9b82"/>
<line x1="760.01" y1="264.30" x2="760.01" y2="346.25" stroke="#86b9af" stroke-width="1"/>
<rect x="757.46" y="283.40" width="5.1" height="58.60" fill="#0f9b82"/>
<line x1="766.41" y1="264.30" x2="766.41" y2="303.10" stroke="#e9a3a8" stroke-width="1"/>
<rect x="763.86" y="280.60" width="5.1" height="15.00" fill="#ef3a4a"/>
<line x1="772.82" y1="294.70" x2="772.82" y2="334.00" stroke="#e9a3a8" stroke-width="1"/>
<rect x="770.27" y="296.00" width="5.1" height="35.80" fill="#ef3a4a"/>
<line x1="779.22" y1="320.00" x2="779.22" y2="359.75" stroke="#e9a3a8" stroke-width="1"/>
<rect x="776.67" y="331.25" width="5.1" height="15.00" fill="#ef3a4a"/>
<line x1="785.63" y1="327.50" x2="785.63" y2="347.20" stroke="#86b9af" stroke-width="1"/>
<rect x="783.08" y="337.25" width="5.1" height="9.00" fill="#0f9b82"/>
<line x1="792.04" y1="336.00" x2="792.04" y2="353.40" stroke="#e9a3a8" stroke-width="1"/>
<rect x="789.49" y="337.80" width="5.1" height="10.70" fill="#ef3a4a"/>
<line x1="798.44" y1="329.40" x2="798.44" y2="351.00" stroke="#86b9af" stroke-width="1"/>
<rect x="795.89" y="336.30" width="5.1" height="12.20" fill="#0f9b82"/>
<line x1="804.85" y1="327.00" x2="804.85" y2="341.50" stroke="#5b857a" stroke-width="1"/>
<rect x="802.30" y="333.50" width="5.1" height="1.50" fill="#1f6f5c"/>
<line x1="811.25" y1="322.80" x2="811.25" y2="346.25" stroke="#e9a3a8" stroke-width="1"/>
<rect x="808.70" y="330.30" width="5.1" height="10.30" fill="#ef3a4a"/>
<line x1="817.66" y1="312.50" x2="817.66" y2="345.30" stroke="#86b9af" stroke-width="1"/>
<rect x="815.11" y="324.70" width="5.1" height="15.55" fill="#0f9b82"/>
<line x1="824.07" y1="317.60" x2="824.07" y2="339.00" stroke="#e9a3a8" stroke-width="1"/>
<rect x="821.52" y="324.75" width="5.1" height="9.85" fill="#ef3a4a"/>
<line x1="830.47" y1="330.50" x2="830.47" y2="347.00" stroke="#e9a3a8" stroke-width="1"/>
<rect x="827.92" y="333.50" width="5.1" height="8.60" fill="#ef3a4a"/>
<line x1="836.88" y1="333.40" x2="836.88" y2="349.20" stroke="#86b9af" stroke-width="1"/>
<rect x="834.33" y="338.40" width="5.1" height="3.35" fill="#0f9b82"/>
<line x1="843.28" y1="332.35" x2="843.28" y2="343.25" stroke="#e9a3a8" stroke-width="1"/>
<rect x="840.73" y="335.80" width="5.1" height="1.70" fill="#ef3a4a"/>
<line x1="849.69" y1="335.00" x2="849.69" y2="344.40" stroke="#e9a3a8" stroke-width="1"/>
<rect x="847.14" y="336.90" width="5.1" height="5.20" fill="#ef3a4a"/>
<line x1="856.10" y1="333.10" x2="856.10" y2="347.90" stroke="#e9a3a8" stroke-width="1"/>
<rect x="853.55" y="342.20" width="5.1" height="5.15" fill="#ef3a4a"/>
<line x1="862.50" y1="331.25" x2="862.50" y2="351.90" stroke="#5b857a" stroke-width="1"/>
<rect x="859.95" y="343.20" width="5.1" height="1.70" fill="#1f6f5c"/>
<line x1="868.91" y1="336.10" x2="868.91" y2="347.90" stroke="#86b9af" stroke-width="1"/>
<rect x="866.36" y="341.10" width="5.1" height="2.05" fill="#0f9b82"/>
<line x1="875.31" y1="330.60" x2="875.31" y2="345.60" stroke="#86b9af" stroke-width="1"/>
<rect x="872.76" y="333.10" width="5.1" height="8.50" fill="#0f9b82"/>
<line x1="881.72" y1="325.60" x2="881.72" y2="338.10" stroke="#e9a3a8" stroke-width="1"/>
<rect x="879.17" y="331.00" width="5.1" height="1.75" fill="#ef3a4a"/>
<line x1="888.13" y1="316.90" x2="888.13" y2="334.40" stroke="#86b9af" stroke-width="1"/>
<rect x="885.58" y="323.10" width="5.1" height="9.40" fill="#0f9b82"/>
<line x1="894.53" y1="316.90" x2="894.53" y2="331.90" stroke="#e9a3a8" stroke-width="1"/>
<rect x="891.98" y="320.00" width="5.1" height="6.25" fill="#ef3a4a"/>
<line x1="900.94" y1="308.75" x2="900.94" y2="326.25" stroke="#e9a3a8" stroke-width="1"/>
<rect x="898.39" y="321.90" width="5.1" height="1.85" fill="#ef3a4a"/>
<line x1="907.34" y1="314.40" x2="907.34" y2="338.00" stroke="#86b9af" stroke-width="1"/>
<rect x="904.79" y="317.10" width="5.1" height="5.40" fill="#0f9b82"/>
<line x1="913.75" y1="312.50" x2="913.75" y2="325.60" stroke="#e9a3a8" stroke-width="1"/>
<rect x="911.20" y="317.10" width="5.1" height="6.00" fill="#ef3a4a"/>
</g>
<text x="1118.2" y="190.7" font-size="7.8" fill="#d4c252" font-weight="normal" text-anchor="end" textLength="35" lengthAdjust="spacingAndGlyphs">0 (0.1021)</text>
<rect x="1120.8" y="187.5" width="2.6" height="1" fill="#a8a69c"/>
<text x="1118.2" y="259.59999999999997" font-size="7.8" fill="#dcb84a" font-weight="normal" text-anchor="end" textLength="51.2" lengthAdjust="spacingAndGlyphs">0.236 (0.0916)</text>
<rect x="1120.8" y="256.4" width="2.6" height="1" fill="#a8a69c"/>
<text x="1118.2" y="301.7" font-size="7.8" fill="#d9b64c" font-weight="normal" text-anchor="end" textLength="51.2" lengthAdjust="spacingAndGlyphs">0.382 (0.0852)</text>
<rect x="1120.8" y="298.5" width="2.6" height="1" fill="#a8a69c"/>
<text x="1118.2" y="336.3" font-size="7.8" fill="#d9b64c" font-weight="normal" text-anchor="end" textLength="41.8" lengthAdjust="spacingAndGlyphs">0.5 (0.0799)</text>
<rect x="1120.8" y="333.1" width="2.6" height="1" fill="#a8a69c"/>
<text x="1118.2" y="370.7" font-size="7.8" fill="#d9b548" font-weight="normal" text-anchor="end" textLength="51.2" lengthAdjust="spacingAndGlyphs">0.618 (0.0747)</text>
<rect x="1120.8" y="367.5" width="2.6" height="1" fill="#a8a69c"/>
<text x="1118.2" y="419.8" font-size="7.8" fill="#d9b548" font-weight="normal" text-anchor="end" textLength="51.2" lengthAdjust="spacingAndGlyphs">0.786 (0.0673)</text>
<rect x="1120.8" y="416.6" width="2.6" height="1" fill="#a8a69c"/>
<text x="1118.2" y="482.0" font-size="7.8" fill="#d9bc58" font-weight="normal" text-anchor="end" textLength="35" lengthAdjust="spacingAndGlyphs">1 (0.0579)</text>
<line x1="114.5" y1="515.8" x2="1165.5" y2="515.8" stroke="#ebecf0" stroke-width="1"/>
<g clip-path="url(#cd)">
<rect x="110.45" y="561.25" width="5.1" height="1.85" fill="#f4504f"/>
<rect x="116.86" y="561.25" width="5.1" height="1.85" fill="#f4504f"/>
<rect x="123.26" y="561.25" width="5.1" height="0.75" fill="#fcd0d3"/>
<rect x="129.67" y="561.25" width="5.1" height="0.65" fill="#fcd0d3"/>
<rect x="136.07" y="561.25" width="5.1" height="0.60" fill="#fcd0d3"/>
<rect x="142.48" y="561.25" width="5.1" height="0.60" fill="#fcd0d3"/>
<rect x="148.89" y="561.25" width="5.1" height="0.60" fill="#fcd0d3"/>
<rect x="155.29" y="561.25" width="5.1" height="0.65" fill="#f4504f"/>
<rect x="161.70" y="561.25" width="5.1" height="0.60" fill="#fcd0d3"/>
<rect x="174.51" y="560.00" width="5.1" height="1.25" fill="#26a69a"/>
<rect x="180.92" y="559.40" width="5.1" height="1.85" fill="#26a69a"/>
<rect x="187.32" y="557.10" width="5.1" height="4.15" fill="#26a69a"/>
<rect x="193.73" y="556.25" width="5.1" height="5.00" fill="#26a69a"/>
<rect x="200.13" y="554.75" width="5.1" height="6.50" fill="#26a69a"/>
<rect x="206.54" y="553.10" width="5.1" height="8.15" fill="#26a69a"/>
<rect x="212.95" y="554.40" width="5.1" height="6.85" fill="#b5e0da"/>
<rect x="219.35" y="555.60" width="5.1" height="5.65" fill="#b5e0da"/>
<rect x="225.76" y="555.60" width="5.1" height="5.65" fill="#b5e0da"/>
<rect x="232.16" y="556.25" width="5.1" height="5.00" fill="#b5e0da"/>
<rect x="238.57" y="557.50" width="5.1" height="3.75" fill="#b5e0da"/>
<rect x="244.98" y="558.75" width="5.1" height="2.50" fill="#b5e0da"/>
<rect x="251.38" y="559.75" width="5.1" height="1.50" fill="#b5e0da"/>
<rect x="257.79" y="560.25" width="5.1" height="1.00" fill="#b5e0da"/>
<rect x="264.19" y="560.80" width="5.1" height="0.60" fill="#b5e0da"/>
<rect x="270.60" y="560.25" width="5.1" height="1.00" fill="#26a69a"/>
<rect x="277.01" y="558.10" width="5.1" height="3.15" fill="#26a69a"/>
<rect x="283.41" y="559.00" width="5.1" height="2.25" fill="#b5e0da"/>
<rect x="289.82" y="557.90" width="5.1" height="3.35" fill="#26a69a"/>
<rect x="296.22" y="559.10" width="5.1" height="2.15" fill="#b5e0da"/>
<rect x="302.63" y="559.40" width="5.1" height="1.85" fill="#b5e0da"/>
<rect x="309.04" y="558.10" width="5.1" height="3.15" fill="#26a69a"/>
<rect x="315.44" y="558.75" width="5.1" height="2.50" fill="#b5e0da"/>
<rect x="321.85" y="559.75" width="5.1" height="1.50" fill="#b5e0da"/>
<rect x="328.25" y="561.25" width="5.1" height="0.95" fill="#f4504f"/>
<rect x="334.66" y="561.25" width="5.1" height="0.95" fill="#f4504f"/>
<rect x="341.07" y="560.40" width="5.1" height="0.85" fill="#26a69a"/>
<rect x="347.47" y="557.50" width="5.1" height="3.75" fill="#26a69a"/>
<rect x="353.88" y="558.75" width="5.1" height="2.50" fill="#b5e0da"/>
<rect x="360.28" y="559.40" width="5.1" height="1.85" fill="#b5e0da"/>
<rect x="366.69" y="560.90" width="5.1" height="0.60" fill="#b5e0da"/>
<rect x="373.10" y="561.25" width="5.1" height="4.00" fill="#f4504f"/>
<rect x="379.50" y="561.25" width="5.1" height="4.00" fill="#f4504f"/>
<rect x="385.91" y="561.25" width="5.1" height="4.00" fill="#f4504f"/>
<rect x="392.31" y="561.25" width="5.1" height="3.15" fill="#fcd0d3"/>
<rect x="398.72" y="561.25" width="5.1" height="2.50" fill="#fcd0d3"/>
<rect x="405.13" y="561.25" width="5.1" height="1.85" fill="#fcd0d3"/>
<rect x="411.53" y="561.25" width="5.1" height="1.25" fill="#fcd0d3"/>
<rect x="417.94" y="561.25" width="5.1" height="1.00" fill="#fcd0d3"/>
<rect x="424.34" y="561.25" width="5.1" height="0.75" fill="#fcd0d3"/>
<rect x="430.75" y="560.60" width="5.1" height="0.65" fill="#26a69a"/>
<rect x="437.16" y="560.25" width="5.1" height="1.00" fill="#26a69a"/>
<rect x="443.56" y="559.60" width="5.1" height="1.65" fill="#26a69a"/>
<rect x="449.97" y="559.00" width="5.1" height="2.25" fill="#26a69a"/>
<rect x="456.37" y="556.90" width="5.1" height="4.35" fill="#26a69a"/>
<rect x="462.78" y="555.00" width="5.1" height="6.25" fill="#26a69a"/>
<rect x="469.19" y="553.75" width="5.1" height="7.50" fill="#26a69a"/>
<rect x="475.59" y="554.00" width="5.1" height="7.25" fill="#26a69a"/>
<rect x="482.00" y="552.10" width="5.1" height="9.15" fill="#26a69a"/>
<rect x="488.40" y="552.50" width="5.1" height="8.75" fill="#b5e0da"/>
<rect x="494.81" y="552.50" width="5.1" height="8.75" fill="#26a69a"/>
<rect x="501.22" y="556.25" width="5.1" height="5.00" fill="#b5e0da"/>
<rect x="507.62" y="559.00" width="5.1" height="2.25" fill="#b5e0da"/>
<rect x="514.03" y="560.25" width="5.1" height="1.00" fill="#b5e0da"/>
<rect x="520.43" y="560.90" width="5.1" height="0.60" fill="#b5e0da"/>
<rect x="526.84" y="561.25" width="5.1" height="2.25" fill="#f4504f"/>
<rect x="533.25" y="561.25" width="5.1" height="2.25" fill="#f4504f"/>
<rect x="539.65" y="561.25" width="5.1" height="3.75" fill="#f4504f"/>
<rect x="546.06" y="561.25" width="5.1" height="5.65" fill="#f4504f"/>
<rect x="552.46" y="561.25" width="5.1" height="7.50" fill="#f4504f"/>
<rect x="558.87" y="561.25" width="5.1" height="8.15" fill="#f4504f"/>
<rect x="565.28" y="561.25" width="5.1" height="6.25" fill="#fcd0d3"/>
<rect x="571.68" y="561.25" width="5.1" height="5.65" fill="#fcd0d3"/>
<rect x="578.09" y="561.25" width="5.1" height="5.65" fill="#fcd0d3"/>
<rect x="584.49" y="561.25" width="5.1" height="6.00" fill="#f4504f"/>
<rect x="590.90" y="561.25" width="5.1" height="5.25" fill="#fcd0d3"/>
<rect x="597.31" y="561.25" width="5.1" height="6.00" fill="#f4504f"/>
<rect x="603.71" y="561.25" width="5.1" height="5.00" fill="#fcd0d3"/>
<rect x="610.12" y="561.25" width="5.1" height="5.25" fill="#f4504f"/>
<rect x="616.52" y="561.25" width="5.1" height="5.65" fill="#f4504f"/>
<rect x="622.93" y="561.25" width="5.1" height="5.85" fill="#f4504f"/>
<rect x="629.34" y="561.25" width="5.1" height="6.50" fill="#f4504f"/>
<rect x="635.74" y="561.25" width="5.1" height="5.00" fill="#fcd0d3"/>
<rect x="642.15" y="561.25" width="5.1" height="4.35" fill="#fcd0d3"/>
<rect x="648.55" y="561.25" width="5.1" height="7.50" fill="#f4504f"/>
<rect x="654.96" y="561.25" width="5.1" height="8.15" fill="#f4504f"/>
<rect x="661.37" y="561.25" width="5.1" height="8.75" fill="#f4504f"/>
<rect x="667.77" y="561.25" width="5.1" height="9.35" fill="#f4504f"/>
<rect x="674.18" y="561.25" width="5.1" height="10.25" fill="#f4504f"/>
<rect x="680.58" y="561.25" width="5.1" height="6.85" fill="#fcd0d3"/>
<rect x="686.99" y="561.25" width="5.1" height="5.65" fill="#fcd0d3"/>
<rect x="693.40" y="561.25" width="5.1" height="4.35" fill="#fcd0d3"/>
<rect x="699.80" y="561.25" width="5.1" height="3.15" fill="#fcd0d3"/>
<rect x="706.21" y="561.25" width="5.1" height="2.85" fill="#fcd0d3"/>
<rect x="712.61" y="561.25" width="5.1" height="2.50" fill="#fcd0d3"/>
<rect x="719.02" y="561.25" width="5.1" height="1.85" fill="#fcd0d3"/>
<rect x="725.43" y="561.25" width="5.1" height="1.25" fill="#fcd0d3"/>
<rect x="731.83" y="561.25" width="5.1" height="1.00" fill="#fcd0d3"/>
<rect x="738.24" y="561.25" width="5.1" height="0.75" fill="#fcd0d3"/>
<rect x="744.64" y="561.25" width="5.1" height="1.25" fill="#f4504f"/>
<rect x="751.05" y="561.25" width="5.1" height="0.60" fill="#fcd0d3"/>
<rect x="757.46" y="558.75" width="5.1" height="2.50" fill="#26a69a"/>
<rect x="763.86" y="557.25" width="5.1" height="4.00" fill="#26a69a"/>
<rect x="770.27" y="558.10" width="5.1" height="3.15" fill="#b5e0da"/>
<rect x="776.67" y="560.00" width="5.1" height="1.25" fill="#b5e0da"/>
<rect x="783.08" y="560.40" width="5.1" height="0.85" fill="#b5e0da"/>
<rect x="789.49" y="560.75" width="5.1" height="0.60" fill="#b5e0da"/>
<rect x="795.89" y="561.00" width="5.1" height="0.60" fill="#b5e0da"/>
<rect x="802.30" y="560.25" width="5.1" height="1.00" fill="#26a69a"/>
<rect x="808.70" y="560.75" width="5.1" height="0.60" fill="#b5e0da"/>
<rect x="815.11" y="560.25" width="5.1" height="1.00" fill="#26a69a"/>
<rect x="821.52" y="560.25" width="5.1" height="1.00" fill="#26a69a"/>
<rect x="827.92" y="560.50" width="5.1" height="0.75" fill="#b5e0da"/>
<rect x="834.33" y="560.75" width="5.1" height="0.60" fill="#b5e0da"/>
<rect x="840.73" y="560.25" width="5.1" height="1.00" fill="#26a69a"/>
<rect x="847.14" y="560.60" width="5.1" height="0.65" fill="#b5e0da"/>
<rect x="853.55" y="560.75" width="5.1" height="0.60" fill="#b5e0da"/>
<rect x="859.95" y="560.40" width="5.1" height="0.85" fill="#26a69a"/>
<rect x="866.36" y="560.25" width="5.1" height="1.00" fill="#26a69a"/>
<rect x="872.76" y="560.00" width="5.1" height="1.25" fill="#26a69a"/>
<rect x="879.17" y="559.40" width="5.1" height="1.85" fill="#26a69a"/>
<rect x="885.58" y="559.00" width="5.1" height="2.25" fill="#26a69a"/>
<rect x="891.98" y="558.40" width="5.1" height="2.85" fill="#26a69a"/>
<rect x="898.39" y="558.40" width="5.1" height="2.85" fill="#26a69a"/>
<rect x="904.79" y="558.40" width="5.1" height="2.85" fill="#26a69a"/>
<rect x="911.20" y="558.40" width="5.1" height="2.85" fill="#b5e0da"/>
<path d="M114.75,563.10 C116.25,563.42 119.12,564.52 123.75,565.00 C128.38,565.48 136.25,565.79 142.50,566.00 C148.75,566.21 156.04,566.32 161.25,566.25 C166.46,566.18 169.58,565.91 173.75,565.60 C177.92,565.29 182.08,565.02 186.25,564.40 C190.42,563.78 194.58,562.95 198.75,561.90 C202.92,560.85 207.08,559.35 211.25,558.10 C215.42,556.85 219.58,555.48 223.75,554.40 C227.92,553.32 232.08,552.33 236.25,551.60 C240.42,550.87 243.96,550.43 248.75,550.00 C253.54,549.57 261.04,549.10 265.00,549.00 C268.96,548.90 269.17,549.69 272.50,549.40 C275.83,549.11 280.83,547.88 285.00,547.25 C289.17,546.62 293.33,546.08 297.50,545.60 C301.67,545.12 305.83,544.82 310.00,544.40 C314.17,543.98 318.33,543.25 322.50,543.10 C326.67,542.95 330.83,543.64 335.00,543.50 C339.17,543.36 343.33,542.67 347.50,542.25 C351.67,541.83 356.46,541.27 360.00,541.00 C363.54,540.73 365.62,540.45 368.75,540.60 C371.88,540.75 375.00,541.27 378.75,541.90 C382.50,542.53 387.08,543.82 391.25,544.40 C395.42,544.98 399.58,545.05 403.75,545.40 C407.92,545.75 413.12,546.19 416.25,546.50 C419.38,546.81 419.38,547.29 422.50,547.25 C425.62,547.21 430.83,546.58 435.00,546.25 C439.17,545.92 443.33,545.77 447.50,545.25 C451.67,544.73 455.83,544.08 460.00,543.10 C464.17,542.12 468.33,540.75 472.50,539.40 C476.67,538.05 480.83,536.40 485.00,535.00 C489.17,533.60 493.33,532.08 497.50,531.00 C501.67,529.92 505.83,528.83 510.00,528.50 C514.17,528.17 518.33,528.65 522.50,529.00 C526.67,529.35 530.83,529.95 535.00,530.60 C539.17,531.25 543.33,531.93 547.50,532.90 C551.67,533.87 555.83,535.32 560.00,536.40 C564.17,537.48 568.33,538.34 572.50,539.40 C576.67,540.46 580.83,541.72 585.00,542.75 C589.17,543.78 593.33,544.71 597.50,545.60 C601.67,546.49 605.83,547.27 610.00,548.10 C614.17,548.93 618.33,549.80 622.50,550.60 C626.67,551.40 630.83,552.12 635.00,552.90 C639.17,553.67 643.33,554.27 647.50,555.25 C651.67,556.23 655.83,557.33 660.00,558.75 C664.17,560.17 668.33,562.08 672.50,563.75 C676.67,565.42 680.83,567.50 685.00,568.75 C689.17,570.00 693.33,570.58 697.50,571.25 C701.67,571.92 705.83,572.23 710.00,572.75 C714.17,573.27 718.33,574.02 722.50,574.40 C726.67,574.77 730.00,574.83 735.00,575.00 C740.00,575.17 748.33,575.50 752.50,575.40 C756.67,575.30 756.67,574.88 760.00,574.40 C763.33,573.92 768.33,572.92 772.50,572.50 C776.67,572.08 780.83,571.97 785.00,571.90 C789.17,571.83 793.33,572.10 797.50,572.10 C801.67,572.10 805.83,572.25 810.00,571.90 C814.17,571.55 818.33,570.32 822.50,570.00 C826.67,569.68 830.83,570.08 835.00,570.00 C839.17,569.92 842.92,569.57 847.50,569.50 C852.08,569.43 857.92,569.67 862.50,569.60 C867.08,569.53 870.83,569.35 875.00,569.10 C879.17,568.85 883.33,568.52 887.50,568.10 C891.67,567.68 895.62,567.12 900.00,566.60 C904.38,566.08 911.46,565.27 913.75,565.00" fill="none" stroke="#e6a06a" stroke-width="0.95"/>
<path d="M114.75,565.60 C116.25,565.82 119.12,566.79 123.75,566.90 C128.38,567.01 136.25,566.40 142.50,566.25 C148.75,566.10 156.04,566.21 161.25,566.00 C166.46,565.79 169.58,565.48 173.75,565.00 C177.92,564.52 182.08,564.56 186.25,563.10 C190.42,561.64 195.00,558.33 198.75,556.25 C202.50,554.17 205.62,551.81 208.75,550.60 C211.88,549.39 213.96,549.56 217.50,549.00 C221.04,548.44 225.83,547.50 230.00,547.25 C234.17,547.00 238.33,547.29 242.50,547.50 C246.67,547.71 251.25,548.25 255.00,548.50 C258.75,548.75 262.50,548.96 265.00,549.00 C267.50,549.04 267.71,549.42 270.00,548.75 C272.29,548.08 275.21,545.88 278.75,545.00 C282.29,544.12 287.08,543.88 291.25,543.50 C295.42,543.12 299.58,543.18 303.75,542.75 C307.92,542.32 312.71,541.09 316.25,540.90 C319.79,540.71 321.88,541.08 325.00,541.60 C328.12,542.12 332.08,543.81 335.00,544.00 C337.92,544.19 340.00,543.67 342.50,542.75 C345.00,541.83 346.46,539.21 350.00,538.50 C353.54,537.79 360.42,538.15 363.75,538.50 C367.08,538.85 367.92,539.58 370.00,540.60 C372.08,541.62 373.12,543.41 376.25,544.60 C379.38,545.79 384.17,547.12 388.75,547.75 C393.33,548.38 399.58,548.32 403.75,548.40 C407.92,548.48 410.62,548.35 413.75,548.20 C416.88,548.05 418.96,547.87 422.50,547.50 C426.04,547.13 430.21,546.79 435.00,546.00 C439.79,545.21 447.08,544.17 451.25,542.75 C455.42,541.33 456.46,539.31 460.00,537.50 C463.54,535.69 468.33,533.82 472.50,531.90 C476.67,529.98 481.04,527.52 485.00,526.00 C488.96,524.48 492.92,522.82 496.25,522.75 C499.58,522.68 502.08,524.71 505.00,525.60 C507.92,526.49 510.83,527.47 513.75,528.10 C516.67,528.73 519.79,528.67 522.50,529.40 C525.21,530.13 526.88,531.57 530.00,532.50 C533.12,533.43 537.71,533.85 541.25,535.00 C544.79,536.15 548.12,537.83 551.25,539.40 C554.38,540.97 556.46,543.47 560.00,544.40 C563.54,545.33 568.33,544.44 572.50,545.00 C576.67,545.56 580.83,546.82 585.00,547.75 C589.17,548.68 593.33,549.81 597.50,550.60 C601.67,551.39 605.83,551.67 610.00,552.50 C614.17,553.33 618.75,554.70 622.50,555.60 C626.25,556.50 628.96,557.42 632.50,557.90 C636.04,558.38 640.83,557.63 643.75,558.50 C646.67,559.37 647.29,561.81 650.00,563.10 C652.71,564.39 656.67,564.78 660.00,566.25 C663.33,567.72 666.88,570.40 670.00,571.90 C673.12,573.40 675.62,574.38 678.75,575.25 C681.88,576.12 685.00,577.08 688.75,577.10 C692.50,577.12 697.71,575.54 701.25,575.40 C704.79,575.26 706.46,576.07 710.00,576.25 C713.54,576.43 718.33,576.71 722.50,576.50 C726.67,576.29 730.00,575.08 735.00,575.00 C740.00,574.92 748.33,576.62 752.50,576.00 C756.67,575.38 757.71,572.35 760.00,571.25 C762.29,570.15 763.75,569.51 766.25,569.40 C768.75,569.29 771.88,570.18 775.00,570.60 C778.12,571.02 781.25,571.65 785.00,571.90 C788.75,572.15 793.33,572.17 797.50,572.10 C801.67,572.03 806.25,571.95 810.00,571.50 C813.75,571.05 815.83,569.69 820.00,569.40 C824.17,569.11 830.42,569.80 835.00,569.75 C839.58,569.70 843.33,569.12 847.50,569.10 C851.67,569.08 856.46,569.62 860.00,569.60 C863.54,569.58 865.21,569.56 868.75,569.00 C872.29,568.44 877.08,567.02 881.25,566.25 C885.42,565.48 889.58,565.07 893.75,564.40 C897.92,563.73 902.92,562.82 906.25,562.25 C909.58,561.68 912.50,561.21 913.75,561.00" fill="none" stroke="#6381c4" stroke-width="0.95"/>
</g>
<line x1="916" y1="561.25" x2="1124" y2="561.25" stroke="#dedee2" stroke-width="1" stroke-dasharray="3,3.4"/>
<g clip-path="url(#ca)">
<text x="1128.8" y="138.79999999999998" font-size="7.8" fill="#2b2e38" font-weight="normal" text-anchor="start" textLength="23.8" lengthAdjust="spacingAndGlyphs">0.1100</text>
<text x="1128.8" y="171.1" font-size="7.8" fill="#2b2e38" font-weight="normal" text-anchor="start" textLength="23.8" lengthAdjust="spacingAndGlyphs">0.1050</text>
<text x="1128.8" y="204.1" font-size="7.8" fill="#2b2e38" font-weight="normal" text-anchor="start" textLength="23.8" lengthAdjust="spacingAndGlyphs">0.1000</text>
<text x="1128.8" y="237.1" font-size="7.8" fill="#2b2e38" font-weight="normal" text-anchor="start" textLength="23.8" lengthAdjust="spacingAndGlyphs">0.0950</text>
<text x="1128.8" y="270.1" font-size="7.8" fill="#2b2e38" font-weight="normal" text-anchor="start" textLength="23.8" lengthAdjust="spacingAndGlyphs">0.0900</text>
<text x="1128.8" y="303.1" font-size="7.8" fill="#2b2e38" font-weight="normal" text-anchor="start" textLength="23.8" lengthAdjust="spacingAndGlyphs">0.0850</text>
<text x="1128.8" y="369.1" font-size="7.8" fill="#2b2e38" font-weight="normal" text-anchor="start" textLength="23.8" lengthAdjust="spacingAndGlyphs">0.0750</text>
<text x="1128.8" y="402.1" font-size="7.8" fill="#2b2e38" font-weight="normal" text-anchor="start" textLength="23.8" lengthAdjust="spacingAndGlyphs">0.0700</text>
<text x="1128.8" y="435.1" font-size="7.8" fill="#2b2e38" font-weight="normal" text-anchor="start" textLength="23.8" lengthAdjust="spacingAndGlyphs">0.0650</text>
<text x="1128.8" y="468.1" font-size="7.8" fill="#2b2e38" font-weight="normal" text-anchor="start" textLength="23.8" lengthAdjust="spacingAndGlyphs">0.0600</text>
<text x="1128.8" y="501.1" font-size="7.8" fill="#2b2e38" font-weight="normal" text-anchor="start" textLength="23.8" lengthAdjust="spacingAndGlyphs">0.0550</text>
<text x="1128.8" y="535.6" font-size="7.8" fill="#2b2e38" font-weight="normal" text-anchor="start" textLength="23.8" lengthAdjust="spacingAndGlyphs">0.0050</text>
<rect x="1126.5" y="113.5" width="36.5" height="20.9" fill="#fff"/>
<rect x="1127" y="115.8" width="35.5" height="14.8" rx="2" fill="#fff" stroke="#eceef2" stroke-width="1"/>
<text x="1132.5" y="125.8" font-size="7.6" fill="#2b2e38" font-weight="normal" text-anchor="start" textLength="13.8" lengthAdjust="spacingAndGlyphs">USD</text>
<rect x="1102" y="148.6" width="54" height="9" rx="1" fill="#e4eefb"/>
<text x="1105" y="155.3" font-size="7.8" fill="#2b3040" font-weight="normal" text-anchor="start" textLength="15" lengthAdjust="spacingAndGlyphs">High</text>
<text x="1129.4" y="155.3" font-size="7.8" fill="#2b3040" font-weight="normal" text-anchor="start" textLength="23.8" lengthAdjust="spacingAndGlyphs">0.1075</text>
<rect x="1103.6" y="478.3" width="52" height="9.7" rx="1" fill="#e6eef9"/>
<text x="1106.2" y="485.9" font-size="7.8" fill="#2b3040" font-weight="normal" text-anchor="start" textLength="13.8" lengthAdjust="spacingAndGlyphs">Low</text>
<text x="1129.4" y="485.9" font-size="7.8" fill="#2b3040" font-weight="normal" text-anchor="start" textLength="23.8" lengthAdjust="spacingAndGlyphs">0.0573</text>
<rect x="1124" y="306.6" width="31.6" height="10.8" fill="#f08a1d"/>
<text x="1129.4" y="315.1" font-size="7.8" fill="#fff" font-weight="bold" text-anchor="start" textLength="23.8" lengthAdjust="spacingAndGlyphs">0.0818</text>
<rect x="1084.4" y="317.7" width="40" height="9.8" rx="1" fill="#d92f48"/>
<text x="1087.3" y="325.6" font-size="7.4" fill="#fff" font-weight="bold" text-anchor="start" textLength="33" lengthAdjust="spacingAndGlyphs">DOGEUSD</text>
<rect x="1124" y="317.6" width="38.8" height="19.7" rx="1" fill="#f23645"/>
<text x="1129.4" y="326.2" font-size="7.8" fill="#fff" font-weight="bold" text-anchor="start" textLength="23.8" lengthAdjust="spacingAndGlyphs">0.0816</text>
<text x="1129.4" y="335.1" font-size="7.8" fill="#fff" font-weight="bold" text-anchor="start" textLength="30.6" lengthAdjust="spacingAndGlyphs">20:04:16</text>
<rect x="1124" y="341.2" width="31.6" height="10.4" fill="#0a0a0a"/>
<text x="1129.4" y="349.3" font-size="7.8" fill="#fff" font-weight="bold" text-anchor="start" textLength="23.8" lengthAdjust="spacingAndGlyphs">0.0781</text>
<rect x="1124" y="504.7" width="33.5" height="10.9" fill="#e24b4b"/>
<text x="1129.4" y="513.1" font-size="7.8" fill="#fff" font-weight="bold" text-anchor="start" textLength="25.6" lengthAdjust="spacingAndGlyphs">2.621M</text>
<rect x="1124" y="553.1" width="31.6" height="11.3" fill="#b7dfd6"/>
<text x="1129.4" y="561.1" font-size="7.8" fill="#2f4a43" font-weight="normal" text-anchor="start" textLength="23.8" lengthAdjust="spacingAndGlyphs" stroke="#2f4a43" stroke-width="0.25">0.0005</text>
<rect x="1124" y="564.4" width="36" height="10.4" fill="#2d5fe3"/>
<text x="1129.6" y="572.2" font-size="7.8" fill="#fff" font-weight="bold" text-anchor="start" textLength="26.6" lengthAdjust="spacingAndGlyphs">−0.0001</text>
<rect x="1124" y="575.2" width="36" height="9" fill="#f26c1c"/>
<text x="1129.6" y="582.6" font-size="7.8" fill="#fff" font-weight="bold" text-anchor="start" textLength="26.6" lengthAdjust="spacingAndGlyphs">−0.0007</text>
</g>
<rect x="114.5" y="583.9" width="1051.0" height="18.1" fill="#fff"/>
<text x="145.03" y="595.9" font-size="7.8" fill="#2b2e38" font-weight="normal" text-anchor="middle" textLength="7.6" lengthAdjust="spacingAndGlyphs">16</text>
<text x="247.53" y="595.9" font-size="7.8" fill="#2b2e38" font-weight="normal" text-anchor="middle" textLength="13" lengthAdjust="spacingAndGlyphs">Nov</text>
<text x="324.4" y="595.9" font-size="7.8" fill="#2b2e38" font-weight="normal" text-anchor="middle" textLength="7.6" lengthAdjust="spacingAndGlyphs">13</text>
<text x="382.05" y="595.9" font-size="7.8" fill="#2b2e38" font-weight="normal" text-anchor="middle" textLength="7.6" lengthAdjust="spacingAndGlyphs">22</text>
<text x="439.71" y="595.9" font-size="7.8" fill="#2b2e38" font-weight="normal" text-anchor="middle" textLength="13" lengthAdjust="spacingAndGlyphs">Dec</text>
<text x="503.77" y="595.9" font-size="7.8" fill="#2b2e38" font-weight="normal" text-anchor="middle" textLength="7.6" lengthAdjust="spacingAndGlyphs">11</text>
<text x="561.42" y="595.9" font-size="7.8" fill="#2b2e38" font-weight="normal" text-anchor="middle" textLength="7.6" lengthAdjust="spacingAndGlyphs">20</text>
<text x="727.98" y="595.9" font-size="7.8" fill="#2b2e38" font-weight="normal" text-anchor="middle" textLength="7.6" lengthAdjust="spacingAndGlyphs">15</text>
<text x="836.88" y="595.9" font-size="7.8" fill="#2b2e38" font-weight="normal" text-anchor="middle" textLength="13" lengthAdjust="spacingAndGlyphs">Feb</text>
<text x="907.34" y="595.9" font-size="7.8" fill="#2b2e38" font-weight="normal" text-anchor="middle" textLength="7.6" lengthAdjust="spacingAndGlyphs">12</text>
<text x="965.0" y="595.9" font-size="7.8" fill="#2b2e38" font-weight="normal" text-anchor="middle" textLength="7.6" lengthAdjust="spacingAndGlyphs">21</text>
<text x="1022.65" y="595.9" font-size="7.8" fill="#2b2e38" font-weight="normal" text-anchor="middle" textLength="13" lengthAdjust="spacingAndGlyphs">Mar</text>
<text x="1086.71" y="595.9" font-size="7.8" fill="#2b2e38" font-weight="normal" text-anchor="middle" textLength="7.6" lengthAdjust="spacingAndGlyphs">11</text>
<text x="638.2" y="595.9" font-size="7.8" fill="#15171d" font-weight="bold" text-anchor="middle" textLength="17.5" lengthAdjust="spacingAndGlyphs">2024</text>
<rect x="114.5" y="112.5" width="1051.0" height="489.5" fill="none" stroke="#f1f2f5" stroke-width="1"/>
<text x="114.4" y="107.6" font-size="7.9" fill="#3a3d47" font-weight="normal" text-anchor="start" textLength="87.5" lengthAdjust="spacingAndGlyphs">Coinpedia-Market-Insight</text>
<text x="205" y="107.6" font-size="7.9" fill="#3a3d47" font-weight="normal" text-anchor="start" textLength="33.2" lengthAdjust="spacingAndGlyphs">published</text>
<text x="241.5" y="107.6" font-size="7.9" fill="#3a3d47" font-weight="normal" text-anchor="start" textLength="7.4" lengthAdjust="spacingAndGlyphs">on</text>
<text x="252" y="107.6" font-size="7.9" fill="#3a3d47" font-weight="normal" text-anchor="start" textLength="62.6" lengthAdjust="spacingAndGlyphs">TradingView.com,</text>
<text x="317.1" y="107.6" font-size="7.9" fill="#3a3d47" font-weight="normal" text-anchor="start" textLength="12.4" lengthAdjust="spacingAndGlyphs">Feb</text>
<text x="332.7" y="107.6" font-size="7.9" fill="#3a3d47" font-weight="normal" text-anchor="start" textLength="8.9" lengthAdjust="spacingAndGlyphs">13,</text>
<text x="345.5" y="107.6" font-size="7.9" fill="#3a3d47" font-weight="normal" text-anchor="start" textLength="16.3" lengthAdjust="spacingAndGlyphs">2024</text>
<text x="364.5" y="107.6" font-size="7.9" fill="#3a3d47" font-weight="normal" text-anchor="start" textLength="19.3" lengthAdjust="spacingAndGlyphs">09:25</text>
<text x="386.1" y="107.6" font-size="7.9" fill="#3a3d47" font-weight="normal" text-anchor="start" textLength="33.7" lengthAdjust="spacingAndGlyphs">UTC+5:30</text>
<text x="119.8" y="125.1" font-size="8.1" fill="#30333d" font-weight="normal" text-anchor="start" textLength="120.8" lengthAdjust="spacingAndGlyphs">Dogecoin / US Dollar, 1D, BINANCE</text>
<text x="246.5" y="125.1" font-size="7.8" fill="#30333d" font-weight="normal" text-anchor="start" textLength="5" lengthAdjust="spacingAndGlyphs">O</text>
<text x="251.5" y="125.1" font-size="7.8" fill="#ee5a66" font-weight="normal" text-anchor="start" textLength="23.5" lengthAdjust="spacingAndGlyphs">0.0824</text>
<text x="280.2" y="125.1" font-size="7.8" fill="#30333d" font-weight="normal" text-anchor="start" textLength="5" lengthAdjust="spacingAndGlyphs">H</text>
<text x="285.2" y="125.1" font-size="7.8" fill="#ee5a66" font-weight="normal" text-anchor="start" textLength="23" lengthAdjust="spacingAndGlyphs">0.0833</text>
<text x="313.3" y="125.1" font-size="7.8" fill="#30333d" font-weight="normal" text-anchor="start" textLength="3.8" lengthAdjust="spacingAndGlyphs">L</text>
<text x="317" y="125.1" font-size="7.8" fill="#ee5a66" font-weight="normal" text-anchor="start" textLength="23" lengthAdjust="spacingAndGlyphs">0.0811</text>
<text x="345.8" y="125.1" font-size="7.8" fill="#30333d" font-weight="normal" text-anchor="start" textLength="4.8" lengthAdjust="spacingAndGlyphs">C</text>
<text x="350.6" y="125.1" font-size="7.8" fill="#ee5a66" font-weight="normal" text-anchor="start" textLength="23.1" lengthAdjust="spacingAndGlyphs">0.0816</text>
<text x="379.1" y="125.1" font-size="7.8" fill="#ee5a66" font-weight="normal" text-anchor="start" textLength="58.9" lengthAdjust="spacingAndGlyphs">−0.0009 (−1.09%)</text>
<text x="119.8" y="136.2" font-size="8.1" fill="#30333d" font-weight="normal" text-anchor="start" textLength="37.4" lengthAdjust="spacingAndGlyphs">Vol · DOGE</text>
<text x="162.8" y="136.2" font-size="8.1" fill="#ec6f79" font-weight="normal" text-anchor="start" textLength="24.7" lengthAdjust="spacingAndGlyphs">2.621M</text>
<text x="119.8" y="146.8" font-size="8.1" fill="#30333d" font-weight="normal" text-anchor="start" textLength="70.2" lengthAdjust="spacingAndGlyphs">EMA 20/50/100/200</text>
<text x="195" y="146.8" font-size="8.1" fill="#e9a64a" font-weight="normal" text-anchor="start" textLength="23.1" lengthAdjust="spacingAndGlyphs">0.0818</text>
<text x="223.1" y="146.8" font-size="8.1" fill="#22242b" font-weight="normal" text-anchor="start" textLength="23.2" lengthAdjust="spacingAndGlyphs">0.0781</text>
<text x="119.8" y="529" font-size="7.6" fill="#30333d" font-weight="normal" text-anchor="start" textLength="19.6" lengthAdjust="spacingAndGlyphs">MACD</text>
<text x="144" y="529" font-size="7.8" fill="#b9dcd6" font-weight="normal" text-anchor="start" textLength="23.5" lengthAdjust="spacingAndGlyphs">0.0005</text>
<text x="172.5" y="529" font-size="7.8" fill="#4464b4" font-weight="normal" text-anchor="start" textLength="27" lengthAdjust="spacingAndGlyphs">−0.0001</text>
<text x="205" y="529" font-size="7.8" fill="#e9985a" font-weight="normal" text-anchor="start" textLength="27.5" lengthAdjust="spacingAndGlyphs">−0.0007</text>
<g transform="translate(114.2,608.55) scale(0.3557)" fill="#111"><path d="M14 22H7V11H0V4h14v18zM28 22h-8l7.5-18h8L28 22z"/><circle cx="20" cy="8" r="4"/></g>
<text x="130.3" y="616.5" font-size="8.6" fill="#3a3a3f" font-weight="normal" text-anchor="start" textLength="45.5" lengthAdjust="spacingAndGlyphs">TradingView</text>
</svg></body></html>
